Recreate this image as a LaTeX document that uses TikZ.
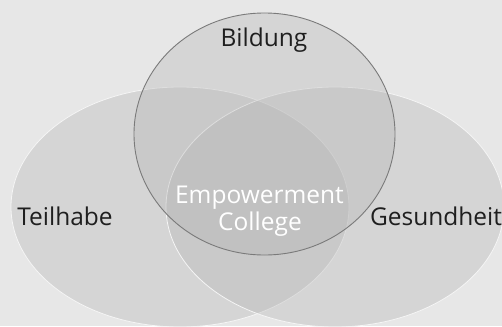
\documentclass[tikz,border=0pt]{standalone}
\usepackage{fontspec}
\setmainfont{Open Sans}
\begin{document}
\begin{tikzpicture}[x=1pt,y=-1pt,
  setfill/.style={fill=black!29.5,fill opacity=0.35},
  label/.style={font=\fontsize{24.5}{28}\selectfont,text=black!88,inner sep=0pt,anchor=base},
  core/.style={font=\fontsize{24.5}{28}\selectfont,text=white,inner sep=0pt,anchor=base}]
  \useasboundingbox (0,0) rectangle (502,326);
  \fill[black!9.5] (0,0) rectangle (502,326);
  \begin{scope}
    \clip (0,0) rectangle (502,326);
    % Teilhabe and Gesundheit
    \draw[setfill,draw=white!96!black,line width=0.8pt] (180,207) ellipse (169 and 120);
    \draw[setfill,draw=white!96!black,line width=0.8pt] (335,207) ellipse (169 and 120);
    % Bildung
    \draw[setfill,draw=black!52,line width=0.9pt] (264.5,134) ellipse (130.5 and 121);
  \end{scope}
  \node[label] (bildung) at (264,47) {Bildung};
  \node[label] (teilhabe) at (65,225) {Teilhabe};
  \node[label] (gesundheit) at (436,225) {Gesundheit};
  \node[core] (emp) at (259.5,203) {Empowerment};
  \node[core] (col) at (260,230) {College};
\end{tikzpicture}
\end{document}
